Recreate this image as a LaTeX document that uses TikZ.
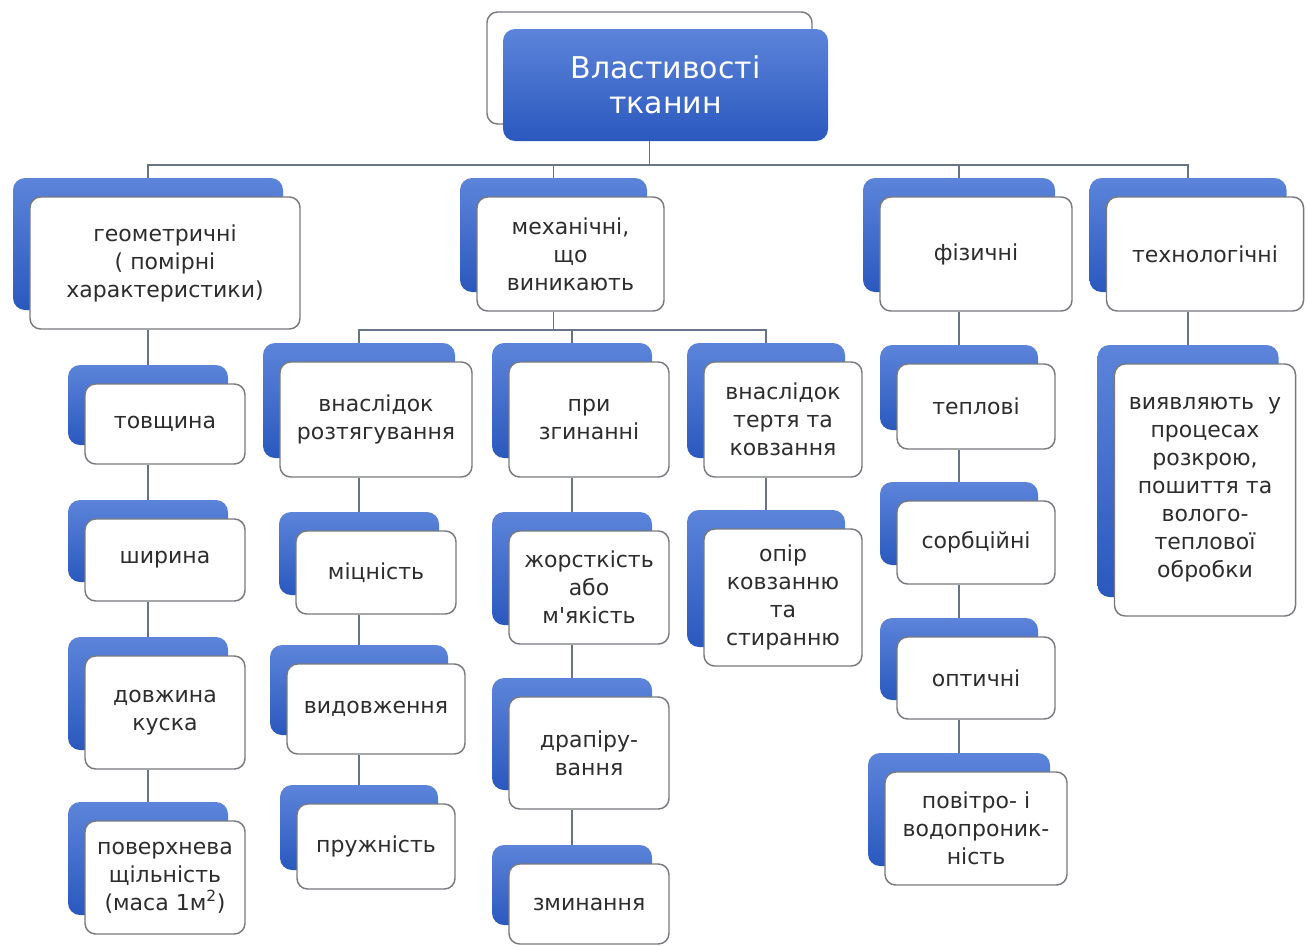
\documentclass[tikz,border=0pt]{standalone}
\usepackage{fontspec}
\setmainfont{DejaVu Sans}
\usetikzlibrary{calc}
\definecolor{boxblueTop}{RGB}{92,132,218}
\definecolor{boxblueBot}{RGB}{42,88,190}
\definecolor{boxline}{RGB}{120,122,128}
\definecolor{linkgray}{RGB}{105,115,135}
\definecolor{labeltext}{RGB}{45,45,45}

% name, x, y, width, height (px), text
\newcommand{\propbox}[6]{%
  \node[backbox, minimum width=#4*0.75pt, minimum height=#5*0.75pt] (#1-b) at (#2,#3) {};
  \node[frontbox, minimum width=#4*0.75pt, minimum height=#5*0.75pt] (#1) at (#1-b) {#6};
}

\begin{document}
\begin{tikzpicture}[
  x=0.75pt, y=-0.75pt,
  backbox/.style={rectangle, rounded corners=9pt, top color=boxblueTop, bottom color=boxblueBot, draw=none, inner sep=0pt},
  frontbox/.style={rectangle, rounded corners=8pt, fill=white, draw=boxline, line width=1.1pt, inner sep=0pt, align=center, text=labeltext, font=\fontsize{16.5}{21}\selectfont, xshift=12.75pt, yshift=-14.25pt},
  titleback/.style={rectangle, rounded corners=8pt, fill=white, draw=boxline, line width=1.1pt, inner sep=0pt},
  titlefront/.style={rectangle, rounded corners=9pt, top color=boxblueTop, bottom color=boxblueBot, draw=none, inner sep=0pt, align=center, text=white, font=\fontsize{22.5}{26.5}\selectfont, xshift=12pt, yshift=-12.75pt},
  link/.style={draw=linkgray, line width=1.4pt},
]
  \useasboundingbox (0,0) rectangle (1306,946);

  % root
  \node[titleback, minimum width=325*0.75pt, minimum height=112*0.75pt] (title-b) at (649.5,68) {};
  \node[titlefront, minimum width=325*0.75pt, minimum height=112*0.75pt] (title) at (title-b) {Властивості\\тканин};

  % first level
  \propbox{geom}{148}{244}{270}{132}{геометричні\\( помірні\\характеристики)}
  \propbox{mech}{553.5}{235}{187}{114}{механічні,\\що\\виникають}
  \propbox{phys}{959}{235}{192}{114}{фізичні}
  \propbox{tech}{1188}{235}{197}{114}{технологічні}

  % geometric
  \propbox{tovsh}{148}{405}{160}{80}{товщина}
  \propbox{shyr}{148}{541}{160}{82}{ширина}
  \propbox{dovzh}{148}{693.5}{160}{113}{довжина\\куска}
  \propbox{poverh}{148}{858.5}{160}{113}{поверхнева\\щільність\\(маса 1м\textsuperscript{2})}

  % mechanical
  \propbox{roztyag}{359}{400.5}{192}{115}{внаслідок\\розтягування}
  \propbox{zgyn}{572}{400.5}{160}{115}{при\\згинанні}
  \propbox{tertya}{766}{400.5}{158}{115}{внаслідок\\тертя та\\ковзання}
  \propbox{mitsn}{359}{553.5}{160}{83}{міцність}
  \propbox{vydovzh}{359}{690}{178}{90}{видовження}
  \propbox{pruzhn}{359}{827.5}{158}{85}{пружність}
  \propbox{zhorst}{572}{568.5}{160}{113}{жорсткість\\або\\м\textquotesingle якість}
  \propbox{drapir}{572}{734}{160}{112}{драпіру-\\вання}
  \propbox{zmyn}{572}{885}{160}{80}{зминання}
  \propbox{opir}{766}{578.5}{158}{137}{опір\\ковзанню\\та\\стиранню}

  % physical
  \propbox{tepl}{959}{387.5}{158}{85}{теплові}
  \propbox{sorb}{959}{523.5}{158}{83}{сорбційні}
  \propbox{optych}{959}{659}{158}{82}{оптичні}
  \propbox{povitr}{959}{809.5}{182}{113}{повітро- і\\водопроник-\\ність}

  % technological
  \propbox{vyyavl}{1188}{471}{181}{252}{виявляють\ \ у\\процесах\\розкрою,\\пошиття та\\волого-\\теплової\\обробки}

  % connectors
  \coordinate (bus1) at (0,165);
  \coordinate (bus2) at (0,330);
  \foreach \c in {geom,mech,phys,tech}
    \draw[link] (title-b |- title.south) -- (title-b |- bus1) -| (\c-b.north);
  \foreach \c in {roztyag,zgyn,tertya}
    \draw[link] (mech-b |- mech.south) -- (mech-b |- bus2) -| (\c-b.north);
  \foreach \a/\b in {geom/tovsh, tovsh/shyr, shyr/dovzh, dovzh/poverh,
                     roztyag/mitsn, mitsn/vydovzh, vydovzh/pruzhn,
                     zgyn/zhorst, zhorst/drapir, drapir/zmyn,
                     tertya/opir,
                     phys/tepl, tepl/sorb, sorb/optych, optych/povitr,
                     tech/vyyavl}
    \draw[link] (\a-b |- \a.south) -- (\b-b.north);
\end{tikzpicture}
\end{document}
